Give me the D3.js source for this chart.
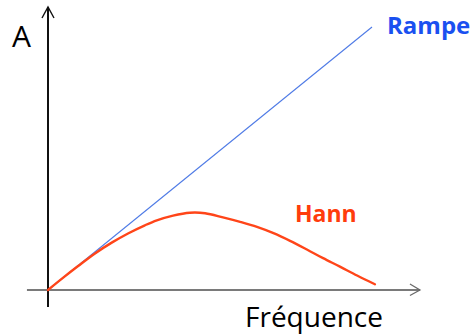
<!DOCTYPE html>
<html>
<head>
<meta charset="utf-8">
<script src="https://cdn.jsdelivr.net/npm/d3@7"></script>
<style>
  html, body { margin: 0; padding: 0; background: #fff; }
  svg { display: block; }
</style>
</head>
<body>
<svg id="chart" width="473" height="335"></svg>
<script>
// Frequency response of two reconstruction filters (relative units)
const rampeFreq = [0, 1];
const rampeAmp  = [0, 1];

const hannFreq = [0, 0.046, 0.093, 0.145, 0.198, 0.247, 0.299, 0.336, 0.386, 0.438, 0.485,
                  0.540, 0.593, 0.645, 0.694, 0.747, 0.799, 0.849, 0.901, 0.954, 1.009];
const hannAmp  = [0, 0.046, 0.091, 0.139, 0.181, 0.215, 0.246, 0.265, 0.283, 0.294, 0.292,
                  0.276, 0.259, 0.240, 0.217, 0.187, 0.154, 0.121, 0.089, 0.055, 0.022];

// Axis extents (data units) and labels
const freqAxisExtent = [-0.065, 1.148];
const ampAxisExtent  = [-0.065, 1.076];
const axisLabels = { x: "Fréquence", y: "A" };
const seriesNames = ["Rampe", "Hann"];

const svg = d3.select("#chart");

const x = d3.scaleLinear().domain([0, 1]).range([48, 372]);
const y = d3.scaleLinear().domain([0, 1]).range([290, 27]);

const line = d3.line().x(d => x(d[0])).y(d => y(d[1]));
const smooth = d3.line().x(d => x(d[0])).y(d => y(d[1])).curve(d3.curveCatmullRom.alpha(0.5));

// Horizontal (frequency) axis with open arrowhead
const xa0 = x(freqAxisExtent[0]), xa1 = x(freqAxisExtent[1]), ya = y(0);
svg.append("line")
  .attr("x1", xa0).attr("x2", xa1).attr("y1", ya).attr("y2", ya)
  .attr("stroke", "#7a7a7a").attr("stroke-width", 2);
svg.append("path")
  .attr("d", `M${xa1 - 10},${ya - 6}L${xa1},${ya}L${xa1 - 10},${ya + 5.5}`)
  .attr("fill", "none").attr("stroke", "#6a6a6a").attr("stroke-width", 1.3);

// Vertical (amplitude) axis with open arrowhead
const xv = x(0), yv0 = y(ampAxisExtent[0]), yv1 = y(ampAxisExtent[1]);
svg.append("line")
  .attr("x1", xv).attr("x2", xv).attr("y1", yv0).attr("y2", yv1)
  .attr("stroke", "#111").attr("stroke-width", 2);
svg.append("path")
  .attr("d", `M${xv - 6},${yv1 + 11}L${xv},${yv1}L${xv + 6},${yv1 + 11}`)
  .attr("fill", "none").attr("stroke", "#111").attr("stroke-width", 1.4);

// Ramp filter
svg.append("path")
  .datum(rampeFreq.map((f, i) => [f, rampeAmp[i]]))
  .attr("d", line)
  .attr("fill", "none").attr("stroke", "#4f7be6").attr("stroke-width", 1.1);

// Hann filter
svg.append("path")
  .datum(hannFreq.map((f, i) => [f, hannAmp[i]]))
  .attr("d", smooth)
  .attr("fill", "none").attr("stroke", "#ff4519").attr("stroke-width", 2.4)
  .attr("stroke-linecap", "round");

// Labels
const font = "'Open Sans', 'Liberation Sans', sans-serif";
svg.append("text").text(axisLabels.y)
  .attr("x", 12).attr("y", 47)
  .attr("font-family", font).attr("font-size", 30).attr("fill", "#000");
svg.append("text").text(axisLabels.x)
  .attr("x", 245).attr("y", 327)
  .attr("font-family", font).attr("font-size", 28).attr("fill", "#000");
svg.append("text").text(seriesNames[0])
  .attr("x", 387).attr("y", 34)
  .attr("font-family", font).attr("font-weight", "bold").attr("font-size", 24)
  .attr("fill", "#1a50f0");
svg.append("text").text(seriesNames[1])
  .attr("x", 295).attr("y", 222)
  .attr("font-family", font).attr("font-weight", "bold").attr("font-size", 23)
  .attr("fill", "#ff3c0c");
</script>
</body>
</html>
